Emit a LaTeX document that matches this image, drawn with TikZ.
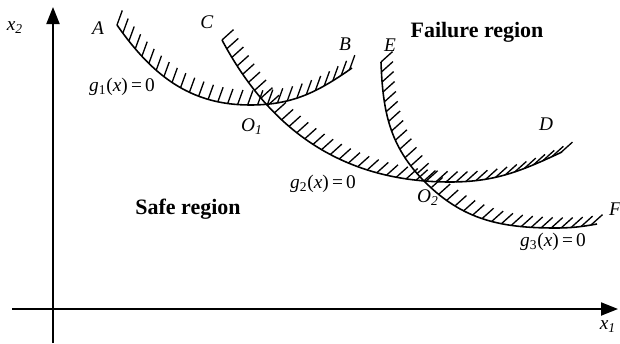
\documentclass[tikz,border=0pt]{standalone}
\usepackage{fontspec}
\setmainfont{Liberation Serif}
\usetikzlibrary{arrows.meta,decorations.markings}

\begin{document}
\begin{tikzpicture}[
        axis/.style={line width=1.2pt, -{Triangle[length=3.4mm, width=2.6mm]}},
        limit/.style={line width=0.9pt},
        hatch/.style={postaction={decorate}, decoration={markings,
            mark=between positions 0 and 1 step 0.2cm with {\pgftransformresetnontranslations
                \draw[line width=0.75pt] (0,0) -- (#1:0.31);}}},
        lbl/.style={font=\fontsize{11pt}{13pt}\selectfont},
        region/.style={font=\fontsize{12.5pt}{14pt}\selectfont\bfseries}
    ]
        \useasboundingbox (0,0) rectangle (12.4,6.86);

        % Axes
        \coordinate (xstart) at (0.24,0.68);
        \coordinate (xend) at (12.36,0.68);
        \coordinate (ystart) at (1.06,0);
        \coordinate (yend) at (1.06,6.72);
        \draw[axis] (xstart) -- (xend);
        \draw[axis] (ystart) -- (yend);
        \node[lbl] (xone) at (12.16,0.32) {\textit{x}\textsubscript{\textit{1}}};
        \node[lbl] (xtwo) at (0.3,6.3) {\textit{x}\textsubscript{\textit{2}}};

        % Limit state curves
        \draw[limit, hatch=70] (2.34,6.36) to[out=-55, in=180] (5.0,4.76) to[out=0, in=-145] (7.04,5.5);
        \draw[limit, hatch=42] (4.44,6.06) to[out=-62, in=180] (9.0,3.22) to[out=0, in=-155] (11.24,3.82);
        \draw[limit, hatch=42] (7.62,5.62) to[out=-88, in=135] (8.5,3.22) to[out=-45, in=180] (11.1,2.3) to[out=0, in=-170] (11.94,2.38);

        % End labels
        \node[lbl] (ptA) at (1.96,6.3) {\textit{A}};
        \node[lbl] (ptB) at (6.9,5.98) {\textit{B}};
        \node[lbl] (ptC) at (4.14,6.42) {\textit{C}};
        \node[lbl] (ptD) at (10.92,4.38) {\textit{D}};
        \node[lbl] (ptE) at (7.8,5.96) {\textit{E}};
        \node[lbl] (ptF) at (12.3,2.68) {\textit{F}};
        \node[lbl] (oone) at (5.04,4.32) {\textit{O\textsubscript{1}}};
        \node[lbl] (otwo) at (8.56,2.9) {\textit{O\textsubscript{2}}};

        % Function labels
        \node[lbl] (gone) at (2.44,5.12) {\textit{g}\textsubscript{1}(\textit{x})\,=\,0};
        \node[lbl] (gtwo) at (6.46,3.18) {\textit{g}\textsubscript{2}(\textit{x})\,=\,0};
        \node[lbl] (gthree) at (11.06,2.02) {\textit{g}\textsubscript{3}(\textit{x})\,=\,0};

        % Regions
        \node[region] (safe) at (3.76,2.68) {Safe region};
        \node[region] (fail) at (9.54,6.22) {Failure region};
    \end{tikzpicture}
\end{document}
